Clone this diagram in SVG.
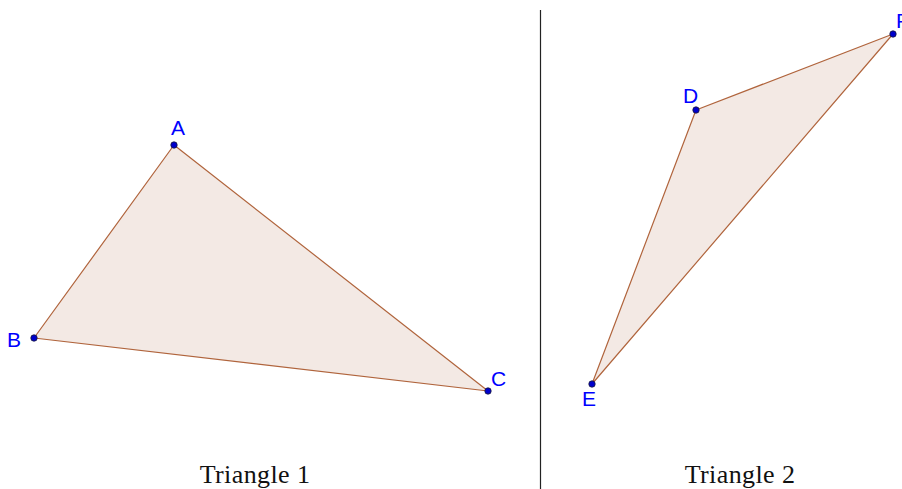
<svg xmlns="http://www.w3.org/2000/svg" width="902" height="489" viewBox="0 0 902 489">
<style>
.tri{fill:#f3e9e4;stroke:#b0643c;stroke-width:1.2;stroke-linejoin:round}
.pt{fill:#0000cc;stroke:#1a1a3a;stroke-width:0.8}
.lbl{font-family:"Liberation Sans",Arial,sans-serif;font-size:21px;fill:#0000ff}
.title{font-family:"Liberation Serif","Times New Roman",serif;font-size:26px;fill:#111;text-anchor:middle;letter-spacing:0.4px}
</style>
<rect width="902" height="489" fill="#fff"/>
<g id="divider"><line x1="540.5" y1="10" x2="540.5" y2="489" stroke="#222" stroke-width="1.2"/></g>
<g id="triangle1">
<polygon class="tri" points="174,145 34,338 488,391"/>
<circle class="pt" cx="174" cy="145" r="3.2"/>
<circle class="pt" cx="34" cy="338" r="3.2"/>
<circle class="pt" cx="488" cy="391" r="3.2"/>
<text class="lbl" x="171" y="135">A</text>
<text class="lbl" x="7" y="347">B</text>
<text class="lbl" x="491" y="386">C</text>
<text class="title" x="255" y="483">Triangle 1</text>
</g>
<g id="triangle2">
<polygon class="tri" points="696,110 592,384 893,34"/>
<circle class="pt" cx="696" cy="110" r="3.2"/>
<circle class="pt" cx="592" cy="384" r="3.2"/>
<circle class="pt" cx="893" cy="34" r="3.2"/>
<text class="lbl" x="683" y="103">D</text>
<text class="lbl" x="582" y="406">E</text>
<text class="lbl" x="896" y="28">F</text>
<text class="title" x="740" y="483">Triangle 2</text>
</g>
</svg>
